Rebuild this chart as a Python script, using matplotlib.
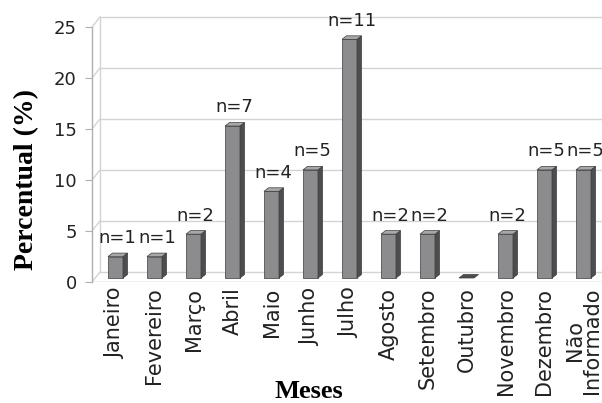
import matplotlib.pyplot as plt
from matplotlib.patches import Polygon, Rectangle

meses = ['Janeiro', 'Fevereiro', 'Março', 'Abril', 'Maio', 'Junho', 'Julho',
         'Agosto', 'Setembro', 'Outubro', 'Novembro', 'Dezembro', 'Não\nInformado']
percentual = [2.1, 2.1, 4.3, 14.9, 8.5, 10.6, 23.4, 4.3, 4.3, 0.0, 4.3, 10.6, 10.6]
contagem = [1, 1, 2, 7, 4, 5, 11, 2, 2, 0, 2, 5, 5]
yticks = [0, 5, 10, 15, 20, 25]

W, H = 602, 403
px_x = 39.0   # pixels per category
px_y = 10.2   # pixels per percent unit

fig = plt.figure(figsize=(W / 100, H / 100), dpi=100)
ax = fig.add_axes([92 / W, (H - 282) / H, 510 / W, 272 / H])
x_left = -23.5 / px_x
x_right = x_left + 510 / px_x
ax.set_xlim(x_left, x_right)
ax.set_ylim(0, 272 / px_y)
for s in ax.spines.values():
    s.set_visible(False)

# depth of the walls / floor
wdx, wdy = 8 / px_x, 10 / px_y
grid_c = '#d4d4d4'
for v in yticks:
    ax.plot([x_left + wdx, x_right], [v + wdy, v + wdy], color=grid_c, lw=1, zorder=1)
    ax.plot([x_left, x_left + wdx], [v, v + wdy], color=grid_c, lw=1, zorder=1)
ax.plot([x_left, x_right], [0, 0], color='#bdbdbd', lw=1, zorder=1)
ax.plot([x_left + wdx, x_left + wdx], [wdy, 25 + wdy], color=grid_c, lw=1, zorder=1)
ax.plot([x_left, x_left], [0, 25], color='#b0b0b0', lw=1, zorder=2, clip_on=False)

# 3D-style bars
bw = 15 / px_x
ddx, ddy = 4.5 / px_x, 3.5 / px_y
base = 4 / px_y
front_c, side_c, top_c, edge_c = '#8c8c8f', '#4d4d50', '#a8a8ab', '#3a3a3a'
for i, (v, n) in enumerate(zip(percentual, contagem)):
    x0 = i - bw / 2
    y0 = base
    if v > 0:
        ax.add_patch(Rectangle((x0, y0), bw, v, facecolor=front_c, edgecolor=edge_c,
                               lw=0.5, zorder=3))
        ax.add_patch(Polygon([(x0 + bw, y0), (x0 + bw + ddx, y0 + ddy),
                              (x0 + bw + ddx, y0 + v + ddy), (x0 + bw, y0 + v)],
                             closed=True, facecolor=side_c, edgecolor=edge_c, lw=0.5, zorder=3))
    ax.add_patch(Polygon([(x0, y0 + v), (x0 + ddx, y0 + v + ddy),
                          (x0 + bw + ddx, y0 + v + ddy), (x0 + bw, y0 + v)],
                         closed=True, facecolor=top_c if v > 0 else side_c,
                         edgecolor=edge_c, lw=0.5, zorder=3))
    if n > 0:
        ax.text(i + ddx / 2, y0 + v + ddy + 0.6, f'n={n}', ha='center', va='bottom',
                fontsize=13, color='#222222', clip_on=False, zorder=4)

ax.set_yticks(yticks)
ax.set_yticklabels([str(t) for t in yticks], fontsize=13, color='#222222')
ax.tick_params(axis='y', length=5, color='#b0b0b0', pad=6)
ax.set_xticks(range(len(meses)))
ax.set_xticklabels(meses, rotation=90, fontsize=15, color='#222222',
                   va='top', ha='center', linespacing=0.8)
ax.tick_params(axis='x', length=0, pad=4)

fig.text(27 / W, 1 - 180 / H, 'Percentual (%)', rotation=90, ha='center', va='center',
         fontsize=20, fontweight='bold', family='Liberation Serif')
fig.text(309 / W, 1 - 398 / H, 'Meses', ha='center', va='baseline',
         fontsize=19, fontweight='bold', family='Liberation Serif')

fig.savefig('out.png', dpi=100)
